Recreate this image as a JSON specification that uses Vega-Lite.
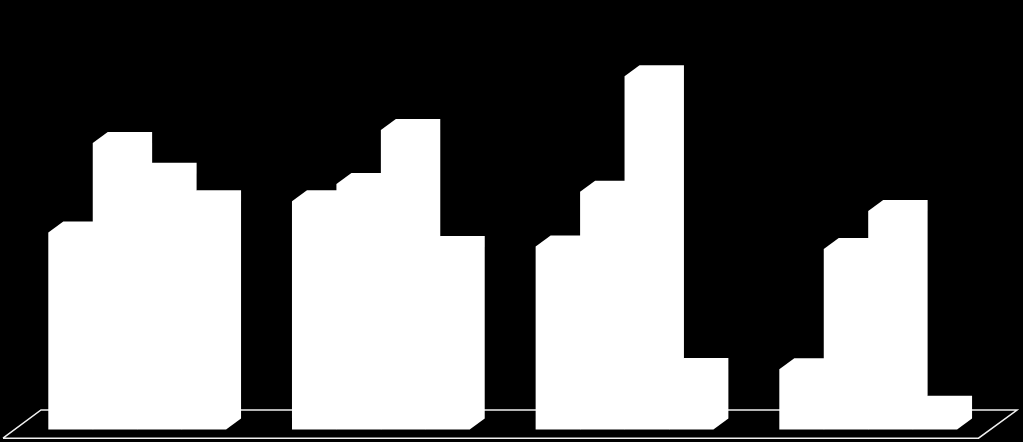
{
  "$schema": "https://vega.github.io/schema/vega-lite/v6.json",
  "width": 1023,
  "height": 442,
  "autosize": {"type": "fit", "contains": "padding"},
  "padding": 0,
  "background": "#000000",
  "config": {"view": {"stroke": null}},
  "datasets": {
    "bars": [
      {"group": 1, "series": 1, "value": 197},
      {"group": 1, "series": 2, "value": 286.5},
      {"group": 1, "series": 3, "value": 255.8},
      {"group": 1, "series": 4, "value": 228.2},
      {"group": 2, "series": 1, "value": 228.2},
      {"group": 2, "series": 2, "value": 245.5},
      {"group": 2, "series": 3, "value": 299.5},
      {"group": 2, "series": 4, "value": 182.5},
      {"group": 3, "series": 1, "value": 183},
      {"group": 3, "series": 2, "value": 237.8},
      {"group": 3, "series": 3, "value": 353.2},
      {"group": 3, "series": 4, "value": 60.5},
      {"group": 4, "series": 1, "value": 60.2},
      {"group": 4, "series": 2, "value": 180.5},
      {"group": 4, "series": 3, "value": 218.5},
      {"group": 4, "series": 4, "value": 22.8}
    ],
    "floor": [
      {"corner": 1, "px": 3, "py": -8.7},
      {"corner": 2, "px": 41, "py": 19.5},
      {"corner": 3, "px": 1017, "py": 19.5},
      {"corner": 4, "px": 978.5, "py": -8.7},
      {"corner": 5, "px": 3, "py": -8.7}
    ]
  },
  "layer": [
    {
      "data": {"name": "floor"},
      "mark": {"type": "line", "color": "#f0f0f0", "strokeWidth": 1.5, "interpolate": "linear"},
      "encoding": {
        "x": {"field": "px", "type": "quantitative", "scale": {"domain": [0, 1023]}, "axis": null},
        "y": {"field": "py", "type": "quantitative", "scale": {"domain": [-12.5, 429.5], "zero": false}, "axis": null},
        "order": {"field": "corner", "type": "ordinal"}
      }
    },
    {
      "data": {"name": "bars"},
      "transform": [
        {"calculate": "[0, 15, 44.4, 59.4]", "as": "dx"},
        {"flatten": ["dx"]},
        {"calculate": "48.3 + (datum.group - 1) * 243.67 + (datum.series - 1) * 44.45 + datum.dx", "as": "px"},
        {"calculate": "datum.dx == 0 ? datum.value : datum.value + 11", "as": "top"},
        {"calculate": "datum.dx > 50 ? 11 : 0", "as": "bottom"},
        {"calculate": "datum.group + '-' + datum.series", "as": "bar"}
      ],
      "mark": {"type": "area", "color": "#ffffff", "opacity": 1, "interpolate": "linear"},
      "encoding": {
        "x": {"field": "px", "type": "quantitative", "scale": {"domain": [0, 1023]}, "axis": null},
        "y": {"field": "top", "type": "quantitative", "stack": null, "scale": {"domain": [-12.5, 429.5], "zero": false}, "axis": null},
        "y2": {"field": "bottom"},
        "detail": {"field": "bar", "type": "nominal"}
      }
    }
  ]
}
